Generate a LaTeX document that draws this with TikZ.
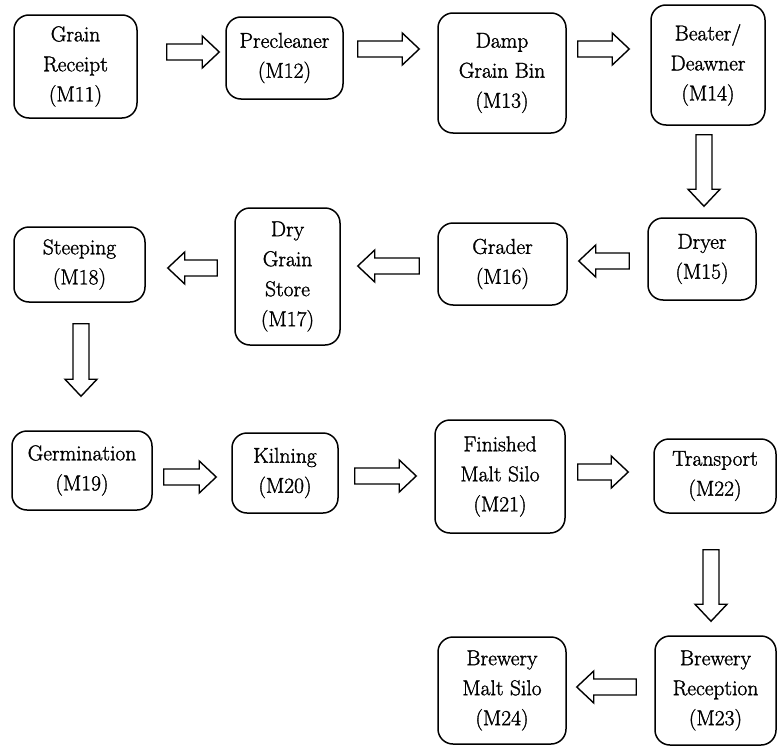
\documentclass[tikz,border=0pt]{standalone}
\usepackage{fontspec}
\setmainfont{Latin Modern Roman}[FakeBold=1.4]
\usetikzlibrary{calc}

\tikzset{
  stage/.style={draw, line width=1.5pt, rounded corners=15pt, align=center,
    inner sep=0pt, font=\rmfamily\fontsize{21.5}{30}\selectfont},
  blockarrow/.style={draw, line width=1.4pt, fill=white, line join=miter},
}

% hollow block arrows between two stages: gaps to each box, then the shaft position
\newcommand\rblock[5]{%
  \draw[blockarrow] let \p1=(#1.east), \p2=(#2.west),
    \n1={\x1+#3pt}, \n2={\x2-#4pt}, \n3={\x2-#4pt-17pt} in
    (\n1,{-#5pt-8pt}) -- (\n3,{-#5pt-8pt}) -- (\n3,{-#5pt-16pt}) -- (\n2,{-#5pt})
    -- (\n3,{-#5pt+16pt}) -- (\n3,{-#5pt+8pt}) -- (\n1,{-#5pt+8pt}) -- cycle;}
\newcommand\lblock[5]{%
  \draw[blockarrow] let \p1=(#1.west), \p2=(#2.east),
    \n1={\x1-#3pt}, \n2={\x2+#4pt}, \n3={\x2+#4pt+17pt} in
    (\n1,{-#5pt-8pt}) -- (\n3,{-#5pt-8pt}) -- (\n3,{-#5pt-16pt}) -- (\n2,{-#5pt})
    -- (\n3,{-#5pt+16pt}) -- (\n3,{-#5pt+8pt}) -- (\n1,{-#5pt+8pt}) -- cycle;}
\newcommand\dblock[5]{%
  \draw[blockarrow] let \p1=(#1.south), \p2=(#2.north),
    \n1={\y1-#3pt}, \n2={\y2+#4pt}, \n3={\y2+#4pt+17pt} in
    ({#5pt-8pt},\n1) -- ({#5pt-8pt},\n3) -- ({#5pt-16pt},\n3) -- ({#5pt},\n2)
    -- ({#5pt+16pt},\n3) -- ({#5pt+8pt},\n3) -- ({#5pt+8pt},\n1) -- cycle;}

\begin{document}
\begin{tikzpicture}[x=1pt, y=1pt]
\useasboundingbox[fill=white] (0,0) rectangle (777,-747);

% malting stages
\node[stage, minimum width=123, minimum height=103] (m11) at (75.5,-66.5) {Grain\\Receipt\\(M11)};
\node[stage, minimum width=117, minimum height=82]  (m12) at (284.5,-58) {Precleaner\\(M12)};
\node[stage, minimum width=128, minimum height=120] (m13) at (502,-73) {Damp\\Grain Bin\\(M13)};
\node[stage, minimum width=114, minimum height=120] (m14) at (708,-65) {Beater/\\Deawner\\(M14)};

\node[stage, minimum width=108, minimum height=82]  (m15) at (702,-259) {Dryer\\(M15)};
\node[stage, minimum width=129, minimum height=82]  (m16) at (502.5,-264) {Grader\\(M16)};
\node[stage, minimum width=105, minimum height=137] (m17) at (287.5,-276.5) {Dry\\Grain\\Store\\(M17)};
\node[stage, minimum width=131, minimum height=75]  (m18) at (79.5,-264.5) {Steeping\\(M18)};

\node[stage, minimum width=140, minimum height=79]  (m19) at (82,-470.5) {Germination\\(M19)};
\node[stage, minimum width=106, minimum height=80]  (m20) at (285,-473) {Kilning\\(M20)};
\node[stage, minimum width=130, minimum height=113] (m21) at (500,-476.5) {Finished\\Malt Silo\\(M21)};
\node[stage, minimum width=122, minimum height=74]  (m22) at (715,-476) {Transport\\(M22)};

\node[stage, minimum width=121, minimum height=109] (m23) at (715.5,-690.5) {Brewery\\Reception\\(M23)};
\node[stage, minimum width=128, minimum height=107] (m24) at (502,-690.5) {Brewery\\Malt Silo\\(M24)};

% flow arrows
\rblock{m11}{m12}{29}{6}{52}
\rblock{m12}{m13}{14}{18}{49}
\rblock{m13}{m14}{11}{21}{49}
\dblock{m14}{m15}{9}{11}{704}
\lblock{m15}{m16}{18}{11}{261}
\lblock{m16}{m17}{18}{17}{266}
\lblock{m17}{m18}{17}{22}{268}
\dblock{m18}{m19}{21}{34}{81}
\rblock{m19}{m20}{11}{15}{477}
\rblock{m20}{m21}{16}{18}{476}
\rblock{m21}{m22}{12}{25}{472}
\dblock{m22}{m23}{36}{14}{711}
\lblock{m23}{m24}{18}{10}{687}
\end{tikzpicture}
\end{document}
